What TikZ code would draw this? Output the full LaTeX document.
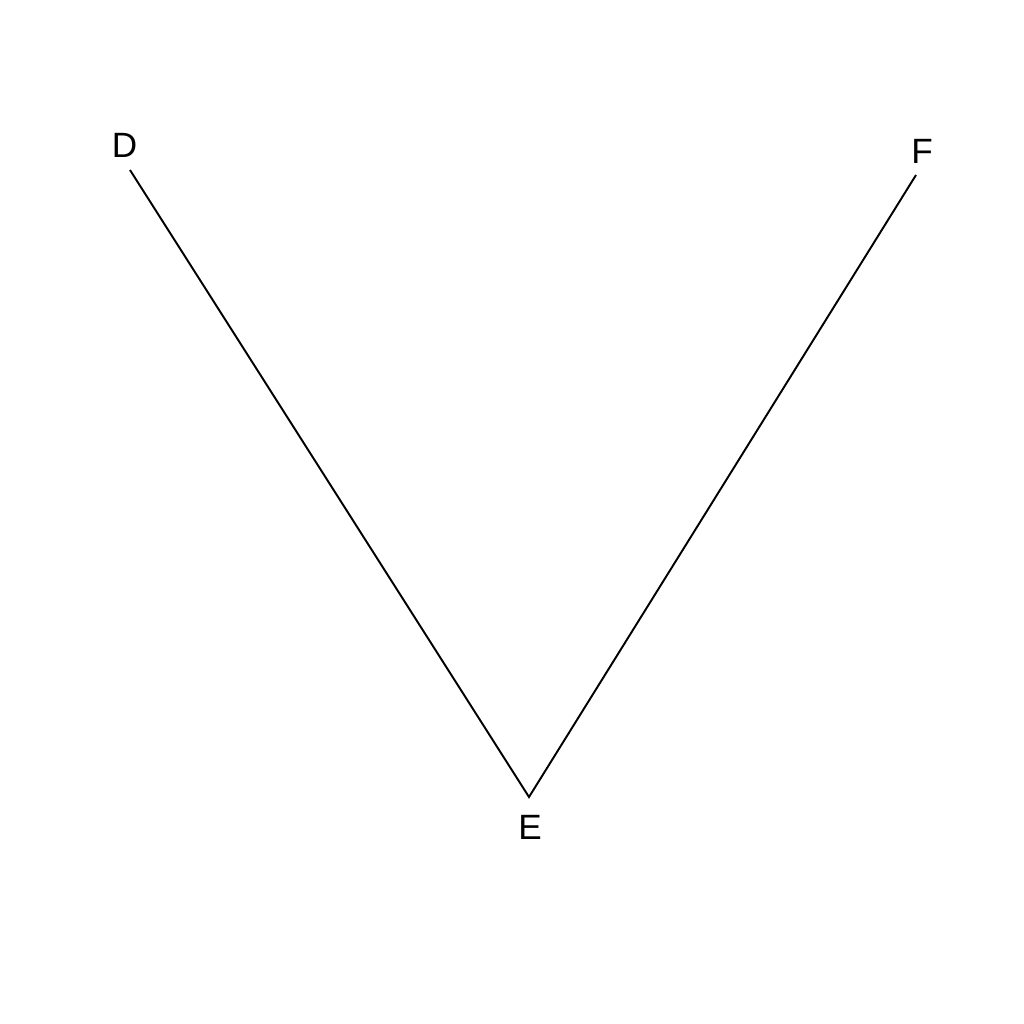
\documentclass[tikz,border=0pt]{standalone}
\usepackage{fontspec}
\setmainfont{Liberation Sans}
\usetikzlibrary{positioning, calc}

\begin{document}
\begin{tikzpicture}[
    x=0.02cm, y=-0.02cm,
    line width=1.1pt,
    lbl/.style={font=\fontsize{20}{24}\selectfont, inner sep=0pt}
]

    % Frame of the picture (1024 x 1024 px)
    \useasboundingbox (0,0) rectangle (1024,1024);

    % Corner points of the V
    \coordinate (d) at (130,170);
    \coordinate (e) at (529,797);
    \coordinate (f) at (916,175);

    % Labels
    \node[lbl] (D) at (124.5,145) {D};
    \node[lbl] (E) at (530,827) {E};
    \node[lbl] (F) at (922,151) {F};

    % Sides
    \draw (d) -- (e) -- (f);

\end{tikzpicture}
\end{document}
